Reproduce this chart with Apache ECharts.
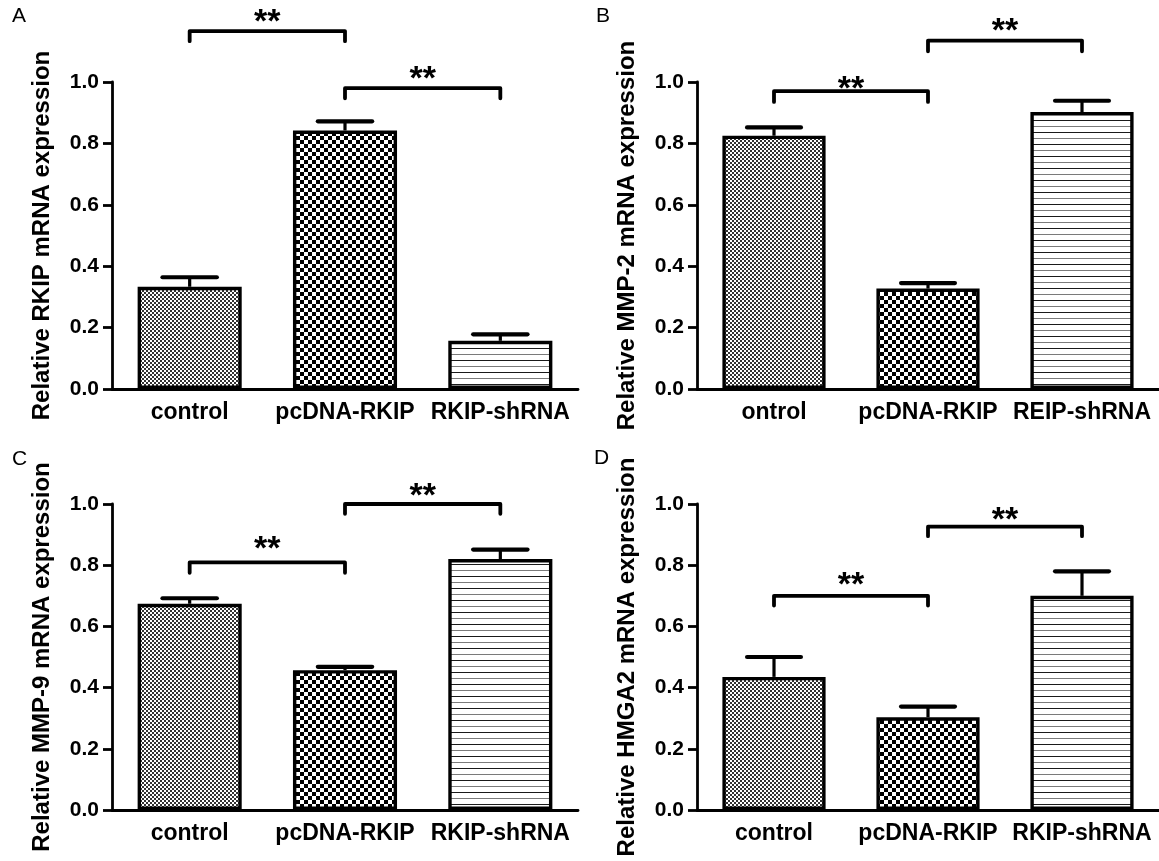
<!DOCTYPE html>
<html>
<head>
<meta charset="utf-8">
<script src="https://cdn.jsdelivr.net/npm/echarts@6/dist/echarts.min.js"></script>
<style>
html,body{margin:0;padding:0;background:#fff;}
#chart{width:1159px;height:861px;}
</style>
</head>
<body>
<div id="chart"></div>
<script>
// ---- data ----
const catsA = ['control', 'pcDNA-RKIP', 'RKIP-shRNA'];
const catsB = ['ontrol', 'pcDNA-RKIP', 'REIP-shRNA'];
const catsC = ['control', 'pcDNA-RKIP', 'RKIP-shRNA'];
const catsD = ['control', 'pcDNA-RKIP', 'RKIP-shRNA'];

const meanA = [0.333, 0.842, 0.157];
const semA  = [0.031, 0.030, 0.021];
const meanB = [0.825, 0.327, 0.902];
const semB  = [0.027, 0.018, 0.037];
const meanC = [0.674, 0.457, 0.820];
const semC  = [0.018, 0.011, 0.031];
const meanD = [0.435, 0.303, 0.700];
const semD  = [0.065, 0.035, 0.080];

// significance brackets: [fromIndex, toIndex, barValue, legEndValue, starValue]
const sigA = [[0, 1, 1.166, 1.133, 1.219], [1, 2, 0.980, 0.947, 1.034]];
const sigB = [[0, 1, 0.970, 0.935, 1.003], [1, 2, 1.135, 1.100, 1.190]];
const sigC = [[0, 1, 0.809, 0.775, 0.876], [1, 2, 1.000, 0.968, 1.050]];
const sigD = [[0, 1, 0.700, 0.668, 0.760], [1, 2, 0.926, 0.895, 0.973]];

const yTicks = [0, 0.2, 0.4, 0.6, 0.8, 1.0];

const yTitles = ['Relative RKIP mRNA expression', 'Relative MMP-2 mRNA expression',
                 'Relative MMP-9 mRNA expression', 'Relative HMGA2 mRNA expression'];
const panelLetters = ['A', 'B', 'C', 'D'];

// ---- patterns ----
function finePattern() {
  const c = document.createElement('canvas'); c.width = 4; c.height = 4;
  const g = c.getContext('2d');
  g.fillStyle = '#ffffff'; g.fillRect(0, 0, 4, 4);
  g.fillStyle = '#333333';
  g.fillRect(0, 0, 2, 2); g.fillRect(2, 2, 2, 2);
  return c;
}
function checkerPattern() {
  const c = document.createElement('canvas'); c.width = 8; c.height = 8;
  const g = c.getContext('2d');
  g.fillStyle = '#ffffff'; g.fillRect(0, 0, 8, 8);
  g.fillStyle = '#000000';
  g.fillRect(0, 0, 4, 4); g.fillRect(4, 4, 4, 4);
  return c;
}
function linePattern() {
  const c = document.createElement('canvas'); c.width = 4; c.height = 12;
  const g = c.getContext('2d');
  g.fillStyle = '#ffffff'; g.fillRect(0, 0, 4, 12);
  g.fillStyle = '#1a1a1a'; g.fillRect(0, 0, 4, 1);
  g.fillStyle = '#7a7a7a'; g.fillRect(0, 6, 4, 1);
  return c;
}
const patterns = [
  {image: finePattern(), repeat: 'repeat'},
  {image: checkerPattern(), repeat: 'repeat'},
  {image: linePattern(), repeat: 'repeat'}
];

const FONT = '"Liberation Sans", Arial, sans-serif';

const panels = [
  {cats: catsA, mean: meanA, sem: semA, sig: sigA, grid: {left: 112, top: 82, width: 466, height: 307}},
  {cats: catsB, mean: meanB, sem: semB, sig: sigB, grid: {left: 697, top: 82, width: 466, height: 307}},
  {cats: catsC, mean: meanC, sem: semC, sig: sigC, grid: {left: 112, top: 504, width: 466, height: 306}},
  {cats: catsD, mean: meanD, sem: semD, sig: sigD, grid: {left: 697, top: 504, width: 466, height: 306}}
];

const grids = [], xAxes = [], yAxes = [], series = [];

panels.forEach((p, k) => {
  grids.push(Object.assign({containLabel: false}, p.grid));
  xAxes.push({
    type: 'category', gridIndex: k, data: p.cats,
    axisLine: {lineStyle: {color: '#000', width: 2.8}},
    axisTick: {alignWithLabel: true, length: 9, lineStyle: {color: '#000', width: 2.8}},
    axisLabel: {color: '#000', fontFamily: FONT, fontWeight: 'bold', fontSize: 23, margin: 12,
                interval: 0, hideOverlap: false},
    splitLine: {show: false}
  });
  yAxes.push({
    type: 'value', gridIndex: k, min: yTicks[0], max: yTicks[yTicks.length - 1], interval: 0.2,
    name: yTitles[k], nameLocation: 'middle', nameGap: 58,
    nameTextStyle: {color: '#000', fontFamily: FONT, fontWeight: 'bold', fontSize: 24},
    axisLine: {show: true, lineStyle: {color: '#000', width: 2.8}},
    axisTick: {show: true, length: 9, lineStyle: {color: '#000', width: 2.8}},
    axisLabel: {color: '#000', fontFamily: FONT, fontWeight: 'bold', fontSize: 21, margin: 13,
                formatter: v => v.toFixed(1)},
    splitLine: {show: false}
  });
  series.push({
    type: 'bar', xAxisIndex: k, yAxisIndex: k, barWidth: '67%',
    data: p.mean.map((v, i) => ({value: v, itemStyle: {color: patterns[i]}})),
    itemStyle: {borderColor: '#000', borderWidth: 3.4},
    silent: true, z: 2
  });
  series.push({
    type: 'custom', xAxisIndex: k, yAxisIndex: k, z: 3, silent: true,
    data: p.mean.map((v, i) => [i, v, v + p.sem[i]]),
    encode: {x: 0, y: [1, 2]},
    renderItem: (params, api) => {
      const i = api.value(0);
      const p0 = api.coord([i, api.value(1)]);
      const p1 = api.coord([i, api.value(2)]);
      const hw = api.size([1, 0])[0] * 0.175;
      return {type: 'group', children: [
        {type: 'line', shape: {x1: p0[0], y1: p0[1], x2: p1[0], y2: p1[1]}, style: {stroke: '#000', lineWidth: 3.2}},
        {type: 'line', shape: {x1: p1[0] - hw, y1: p1[1], x2: p1[0] + hw, y2: p1[1]},
         style: {stroke: '#000', lineWidth: 4.2, lineCap: 'round'}}
      ]};
    }
  });
  series.push({
    type: 'custom', xAxisIndex: k, yAxisIndex: k, z: 4, silent: true, clip: false,
    data: p.sig,
    encode: {x: [0, 1], y: [2, 3, 4]},
    renderItem: (params, api) => {
      const a = api.value(0), b = api.value(1);
      const pa = api.coord([a, api.value(2)]);
      const pb = api.coord([b, api.value(2)]);
      const la = api.coord([a, api.value(3)]);
      const ps = api.coord([a, api.value(4)]);
      const fs = 34;
      return {type: 'group', children: [
        {type: 'polyline', shape: {points: [[pa[0], la[1]], [pa[0], pa[1]], [pb[0], pb[1]], [pb[0], la[1]]]},
         style: {stroke: '#000', fill: null, lineWidth: 3.8, lineJoin: 'round', lineCap: 'round'}},
        {type: 'text', style: {text: '**', x: (pa[0] + pb[0]) / 2, y: ps[1] + fs * 0.24,
          align: 'center', verticalAlign: 'middle', fontSize: fs, fontWeight: 'bold',
          fontFamily: FONT, fill: '#000'}}
      ]};
    }
  });
});

const letterPos = [[12, 6], [596, 6], [12, 449], [594, 448]];
const graphic = panelLetters.map((t, k) => ({
  type: 'text', left: letterPos[k][0], top: letterPos[k][1],
  style: {text: t, fontSize: 21, fontFamily: FONT, fill: '#000'}
}));

const chart = echarts.init(document.getElementById('chart'), null, {renderer: 'canvas'});
chart.setOption({
  animation: false,
  backgroundColor: '#fff',
  grid: grids, xAxis: xAxes, yAxis: yAxes, series: series, graphic: graphic
});
</script>
</body>
</html>
